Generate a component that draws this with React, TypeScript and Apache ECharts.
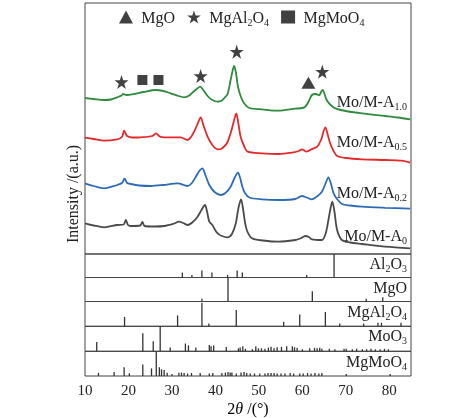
import React, { useEffect, useRef } from 'react';
import * as echarts from 'echarts';

const FONT = '"Liberation Serif", "Times New Roman", Times, serif';

// 2θ range and tick labels
const X_MIN = 10;
const X_MAX = 85;
const X_INTERVAL = 10;

// XRD patterns: [2θ, intensity (a.u.)]
const curveA10 = [
  [10.0, 156], [12.0, 155], [14.4, 154], [16.0, 154.5], [17.4, 156.7], [18.4, 158.5], [18.8, 160], [19.5, 159],
  [21.3, 160], [23.5, 162], [26.3, 164], [28.0, 163], [29.7, 160.7], [31.5, 158], [32.8, 156.7], [34.0, 158.5],
  [34.7, 161.3], [35.7, 165], [36.5, 167.3], [37.2, 164], [38.2, 158], [39.3, 154], [40.5, 152.3], [41.5, 153.5],
  [42.0, 155.7], [42.8, 160], [43.5, 174], [44.0, 184], [44.3, 188], [44.7, 182], [45.2, 167.3], [45.8, 158],
  [46.6, 150.7], [47.8, 146], [50.7, 144.7], [54.5, 143.3], [58.4, 145.3], [60.0, 146], [60.7, 147.3], [61.5, 153],
  [62.2, 159], [63.1, 160], [63.9, 158.7], [64.3, 162], [64.7, 164], [65.1, 160], [65.6, 154], [66.5, 149],
  [67.6, 145.7], [70.0, 143], [73.7, 140.7], [79.1, 138], [82.0, 136.5], [84.8, 134.7],
];
const curveA05 = [
  [10.0, 116.3], [12.0, 115], [14.4, 113.3], [17.4, 114.7], [18.5, 117], [19.0, 123.3], [19.7, 118], [21.0, 116.5],
  [22.8, 116.7], [25.5, 118], [26.3, 120.7], [27.2, 117.5], [28.2, 116.7], [32.0, 116.7], [33.6, 114], [34.4, 117],
  [35.1, 122.3], [35.9, 130], [36.6, 136.7], [37.3, 128], [38.2, 117.3], [39.3, 109], [40.5, 104.7], [41.3, 105],
  [42.0, 107.3], [42.8, 112], [43.5, 120.7], [44.2, 132], [44.8, 140.7], [45.3, 130], [45.8, 117.3], [46.6, 108],
  [47.4, 102.3], [50.7, 100.7], [54.5, 100], [57.6, 101.3], [59.2, 103], [59.9, 104.7], [61.0, 102.3], [62.2, 105],
  [63.4, 107.3], [64.3, 114], [65.3, 126.7], [65.8, 120], [66.4, 110.7], [67.2, 103], [68.0, 98], [70.0, 96],
  [73.7, 94.7], [79.0, 94], [82.9, 93.3], [84.8, 91.3],
];
const curveA02 = [
  [10.0, 70.7], [12.0, 68], [14.4, 65.7], [17.4, 69], [18.5, 71], [19.1, 75.3], [19.7, 71], [20.5, 70],
  [22.5, 68.5], [25.1, 68], [28.0, 69], [31.3, 70.7], [33.6, 68], [34.6, 71], [35.5, 77.3], [36.3, 83],
  [37.0, 85.7], [37.7, 79], [38.6, 69], [39.8, 62], [41.2, 59], [42.3, 61], [43.5, 67.3], [44.4, 76],
  [45.2, 81.3], [45.7, 76], [46.2, 67.3], [46.8, 61], [47.8, 56.5], [50.7, 54.7], [54.5, 54], [58.4, 55],
  [59.9, 58], [61.0, 56.5], [62.2, 54.7], [63.5, 58], [64.5, 62.3], [65.3, 70], [66.0, 76.7], [66.6, 70],
  [67.2, 60.7], [68.0, 55], [69.1, 50], [71.0, 48.5], [73.7, 47.3], [79.0, 46.2], [84.8, 45.3],
];
const curveA0 = [
  [10.0, 30.7], [12.0, 28.5], [14.4, 26.7], [17.4, 29], [18.9, 29.5], [19.4, 34], [19.9, 29], [20.5, 28],
  [22.7, 28.5], [23.2, 32], [23.7, 28], [26.0, 27.5], [28.2, 28], [30.5, 30.5], [31.6, 32.3], [32.6, 31],
  [33.6, 29], [34.8, 32], [35.9, 37.3], [36.8, 44], [37.6, 49], [38.1, 42], [38.6, 32.3], [39.3, 29],
  [39.8, 25], [40.5, 20.7], [41.5, 18], [42.8, 16.7], [43.8, 20], [44.7, 30.7], [45.3, 46], [45.9, 54.7],
  [46.4, 44], [46.8, 32], [47.3, 23], [48.4, 15.7], [51.0, 13.5], [54.5, 12.3], [58.4, 14], [59.5, 15.5],
  [60.7, 18], [61.5, 17], [62.2, 14.7], [64.5, 14], [65.4, 21], [66.0, 34], [66.5, 46], [66.9, 52.3],
  [67.4, 42], [68.0, 24], [69.1, 14], [71.0, 11.5], [73.7, 10], [79.1, 7.3], [84.8, 5.7],
];

// Phase markers above the peaks: [2θ, intensity]
const markMgO = [[61.4, 171.3]];
const markMgAl2O4 = [[18.4, 172], [36.6, 178], [44.9, 202.3], [64.6, 182.3]];
const markMgMoO4 = [[23.2, 174], [26.9, 174]];

// Reference stick patterns: [2θ, relative intensity %]
const refAl2O3 = [[32.4, 21], [34.6, 11], [36.9, 30], [39.2, 21], [42.8, 11], [45.0, 30], [46.2, 21], [61.0, 11], [67.3, 100]];
const refMgO = [[36.9, 11], [42.9, 100], [62.3, 43], [74.7, 11], [78.5, 18]];
const refMgAl2O4 = [[19.1, 38], [31.3, 44], [36.9, 95], [38.5, 11], [44.8, 66], [55.7, 18], [59.4, 48], [65.3, 58],
  [68.6, 11], [74.1, 11], [77.4, 14], [78.2, 14], [82.7, 14]];
const refMoO3 = [[12.7, 37], [23.3, 72], [25.7, 40], [27.3, 100], [29.6, 15], [33.1, 31], [33.8, 24], [35.5, 15],
  [38.6, 25], [39.0, 20], [39.6, 23], [42.5, 17], [45.3, 12], [45.7, 15], [46.3, 20], [46.9, 10], [48.5, 8],
  [49.3, 20], [49.9, 12], [50.6, 12], [51.4, 10], [52.2, 15], [52.8, 18], [53.5, 12], [54.2, 16], [55.2, 18],
  [56.4, 20], [57.7, 20], [58.2, 16], [58.8, 14], [60.0, 8], [61.7, 12], [62.8, 14], [63.4, 12], [64.0, 14],
  [64.5, 10], [66.2, 10], [67.5, 8], [69.6, 10], [70.1, 10], [71.5, 8], [72.5, 10], [73.8, 8], [74.8, 8],
  [75.8, 10], [76.8, 8], [77.9, 8], [78.9, 10], [79.8, 8]];
const refMgMoO4 = [[13.1, 13], [16.7, 16], [19.0, 35], [20.2, 11], [23.3, 47], [25.3, 31], [26.4, 100], [27.1, 35],
  [27.6, 27], [28.2, 24], [28.9, 13], [30.0, 8], [31.6, 13], [32.2, 14], [32.8, 12], [33.6, 10], [34.5, 12],
  [36.5, 12], [38.6, 10], [39.4, 12], [41.5, 12], [42.3, 14], [42.9, 16], [43.4, 14], [43.8, 14], [44.8, 10],
  [45.9, 14], [46.6, 16], [47.2, 12], [48.0, 10], [49.0, 10], [50.2, 10], [51.4, 10], [52.1, 12], [52.8, 12],
  [53.5, 12], [54.2, 10], [55.1, 10], [56.0, 10], [57.2, 12], [58.0, 10], [59.4, 10], [60.2, 10], [61.2, 12],
  [62.0, 10], [62.9, 12], [63.8, 10], [64.5, 12], [70.1, 8], [80.2, 8]];

const curves = [
  { name: 'Mo/M-A1.0', data: curveA10, color: '#2f8a3e' },
  { name: 'Mo/M-A0.5', data: curveA05, color: '#e4282a' },
  { name: 'Mo/M-A0.2', data: curveA02, color: '#2d6cb5' },
  { name: 'Mo/M-A0', data: curveA0, color: '#4a4a4a' },
];
const references = [refAl2O3, refMgO, refMgAl2O4, refMoO3, refMgMoO4];

const STAR = 'path://M50,2 L61.8,37.4 L99,37.4 L69,59.6 L80.4,95 L50,73 L19.6,95 L31,59.6 L1,37.4 L38.2,37.4 Z';

const rich = {
  n: { fontSize: 16, fontFamily: FONT, lineHeight: 16, verticalAlign: 'top', color: '#222' },
  s: { fontSize: 10, fontFamily: FONT, lineHeight: 10, verticalAlign: 'top', padding: [8, 0, 0, 0], color: '#222' },
};

function label(x: number, y: number, text: string) {
  return {
    type: 'text', x, y, silent: true,
    style: { text, align: 'right', verticalAlign: 'middle', rich, fill: '#222', fontFamily: FONT, fontSize: 16 },
  };
}

export default function App() {
  const ref = useRef<HTMLDivElement>(null);
  useEffect(() => {
    const chart = echarts.init(ref.current!, null, { renderer: 'svg' });
    const tops = [3, 254, 277.5, 301.5, 326.3, 351.3];
    const bottoms = [254, 277.5, 301.5, 326.3, 351.3, 376];
    const grid = tops.map((t, i) => ({
      left: 85, width: 326, top: t, height: bottoms[i] - t,
      show: true, borderColor: '#444', borderWidth: 1, backgroundColor: 'transparent',
    }));
    const xAxis = tops.map((_, i) => ({
      type: 'value', gridIndex: i, min: X_MIN, max: X_MAX, interval: X_INTERVAL,
      axisLine: { show: false }, axisTick: { show: false }, splitLine: { show: false },
      axisLabel: {
        show: i === tops.length - 1, margin: 6, color: '#222', fontFamily: FONT, fontSize: 15,
        formatter: (v: number) => (v % 10 === 0 ? String(v) : ''),
      },
    }));
    const yAxis = tops.map((_, i) => ({
      type: 'value', gridIndex: i, min: 0, max: i === 0 ? 251 : 100, show: false,
    }));
    const series: any[] = [];
    curves.forEach((c) => {
      series.push({
        type: 'line', name: c.name, xAxisIndex: 0, yAxisIndex: 0, data: c.data,
        showSymbol: false, smooth: 0.3, lineStyle: { width: 1.8, color: c.color }, color: c.color,
      });
    });
    series.push(
      { type: 'scatter', name: 'MgO', data: markMgO, symbol: 'triangle', symbolSize: [14, 12], itemStyle: { color: '#111' } },
      { type: 'scatter', name: 'MgAl2O4', data: markMgAl2O4, symbol: STAR, symbolSize: 14, itemStyle: { color: '#111' } },
      { type: 'scatter', name: 'MgMoO4', data: markMgMoO4, symbol: 'rect', symbolSize: 10, itemStyle: { color: '#111' } },
    );
    references.forEach((r, i) => {
      series.push({
        type: 'bar', xAxisIndex: i + 1, yAxisIndex: i + 1, data: r, barWidth: 1.3,
        itemStyle: { color: '#333' }, silent: true,
      });
    });
    const legendNames: Record<string, string> = {
      MgO: ' {n|MgO}', MgAl2O4: ' {n|MgAl}{s|2}{n|O}{s|4}', MgMoO4: ' {n|MgMoO}{s|4}',
    };
    chart.setOption({
      animation: false,
      grid, xAxis, yAxis, series,
      legend: {
        data: [
          { name: 'MgO', itemStyle: { color: '#111' } },
          { name: 'MgAl2O4', itemStyle: { color: '#111' } },
          { name: 'MgMoO4', itemStyle: { color: '#111' } },
        ],
        left: 114, top: 4, itemWidth: 14, itemHeight: 13, itemGap: 12,
        formatter: (n: string) => legendNames[n], textStyle: { rich }, selectedMode: false,
      },
      graphic: [
        label(407, 101.7, '{n|Mo/M-A}{s|1.0}'),
        label(407, 141.7, '{n|Mo/M-A}{s|0.5}'),
        label(407, 192.7, '{n|Mo/M-A}{s|0.2}'),
        label(407, 235, '{n|Mo/M-A}{s|0}'),
        label(407, 263.3, '{n|Al}{s|2}{n|O}{s|3}'),
        label(407, 287.3, '{n|MgO}'),
        label(407, 311.7, '{n|MgAl}{s|2}{n|O}{s|4}'),
        label(407, 335, '{n|MoO}{s|3}'),
        label(407, 361.7, '{n|MgMoO}{s|4}'),
        {
          type: 'text', x: 248, y: 408, silent: true,
          style: {
            text: '{n|2}{i|θ}{n| /(°)}', align: 'center', verticalAlign: 'middle',
            rich: {
              n: { fontSize: 16, fontFamily: FONT, color: '#222' },
              i: { fontSize: 16, fontFamily: FONT, fontStyle: 'italic', color: '#222' },
            },
          },
        },
        {
          type: 'text', x: 72, y: 194, rotation: Math.PI / 2, silent: true,
          style: { text: 'Intensity /(a.u.)', align: 'center', verticalAlign: 'middle', fontSize: 16, fontFamily: FONT, fill: '#222' },
        },
      ],
    });
    return () => chart.dispose();
  }, []);
  return <div ref={ref} style={{ position: 'fixed', left: 0, top: 0, width: 474, height: 418 }} />;
}
